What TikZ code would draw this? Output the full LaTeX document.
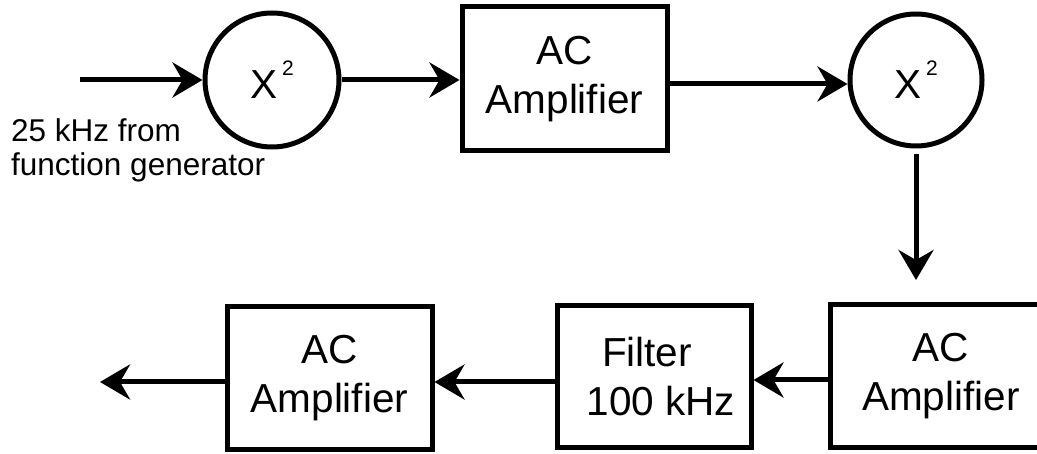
\documentclass[tikz,border=0pt]{standalone}
\usepackage{fontspec}
\setmainfont{Liberation Sans}
\usepackage{tikz}
\usetikzlibrary{arrows.meta,positioning}
\newcommand{\sqlabel}{X\hspace{5pt}\raisebox{23pt}{\fontsize{21}{21}\selectfont 2}}

\begin{document}
\begin{tikzpicture}[x=1pt,y=-1pt,
    every node/.style={font=\fontsize{40.5}{49}\selectfont},
    blockbox/.style={draw,line width=5pt,align=center,inner sep=0pt},
    sqcirc/.style={draw,circle,line width=5pt,inner sep=0pt},
    sig/.style={line width=5pt,-{Stealth[length=30pt,width=35pt,inset=10pt]}}]
        % Page frame
        \clip (0,0) rectangle (1037,454);

        % Top row
        \node[sqcirc,minimum size=134pt] (sqA) at (272,80) {\sqlabel};
        \node[blockbox,minimum width=205pt,minimum height=144pt] (ampA) at (564.5,79) {AC\\Amplifier};
        \node[sqcirc,minimum size=132pt] (sqB) at (916,80) {\sqlabel};

        % Bottom row
        \node[blockbox,minimum width=222pt,minimum height=143pt] (ampB) at (941,376.5) {AC\\Amplifier};
        \node[blockbox,minimum width=194pt,minimum height=142pt] (filt) at (654,377)
          {Filter\hspace*{14pt}\mbox{}\\\hspace*{14pt}100 kHz};
        \node[blockbox,minimum width=205pt,minimum height=143pt] (ampC) at (329.5,378.5) {AC\\Amplifier};

        % Source label
        \node[anchor=base west,align=left,inner sep=0pt,font=\fontsize{31.5}{34}\selectfont]
          (src) at (11,176) {25 kHz from\\function generator};

        % Free ends
        \coordinate (in)  at (80,80);
        \coordinate (dn)  at (916,280);
        \coordinate (out) at (100,382);

        % Signal path
        \draw[sig] (in) -- (sqA.west);
        \draw[sig] (sqA.east) -- (ampA.west |- sqA.east);
        \draw[sig] (ampA.east |- 0,84) -- (sqB.west |- 0,84);
        \draw[sig] ([yshift=-6pt]sqB.south) -- (dn);
        \draw[sig] (ampB.west |- 0,380) -- (filt.east |- 0,380);
        \draw[sig] (filt.west |- 0,382) -- (ampC.east |- 0,382);
        \draw[sig] (ampC.west |- 0,382) -- (out);
      \end{tikzpicture}
\end{document}
